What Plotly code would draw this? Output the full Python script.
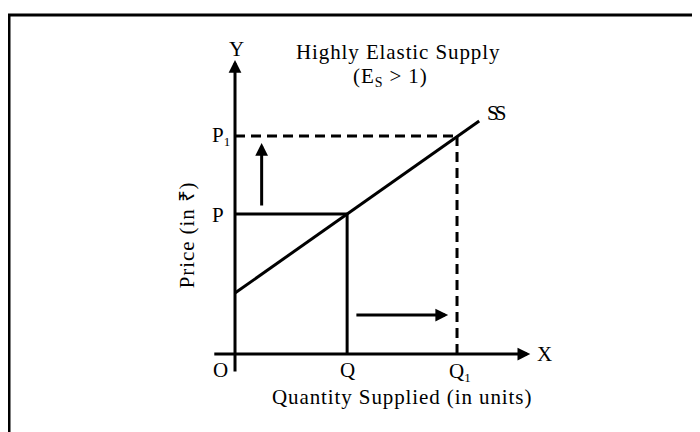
import plotly.graph_objects as go

# quantities (x) and prices (y) in chart units
Q = 10.1
Q1 = 20.0
P = 14.0
P1 = 21.8

# supply curve SS
ss_x = [0, 22.0]
ss_y = [6.1, 23.3]

# axis extents
x_axis = [-2.0, 26.6]
y_axis = [-1.9, 29.4]

# shift arrows
up_arrow_x = 2.4
up_arrow_y = [14.7, 21.1]
right_arrow_y = 3.9
right_arrow_x = [10.8, 19.2]

FONT = "Liberation Serif, Times New Roman, serif"
sp = '<span style="letter-spacing:0.9px">{}</span>'
sub1 = '<sub><span style="font-size:13px">1</span></sub>'

fig = go.Figure()

solid = dict(color="black", width=3)
dashed = dict(color="black", width=3, dash="10px,6px")

# original price / quantity
fig.add_trace(go.Scatter(x=[0, Q], y=[P, P], mode="lines", line=solid))
fig.add_trace(go.Scatter(x=[Q, Q], y=[0, P], mode="lines", line=solid))
# new price / quantity
fig.add_trace(go.Scatter(x=[0, Q1], y=[P1, P1], mode="lines", line=dashed))
fig.add_trace(go.Scatter(x=[Q1, Q1], y=[0, P1], mode="lines", line=dashed))
# supply curve
fig.add_trace(go.Scatter(x=ss_x, y=ss_y, mode="lines", line=solid))


def arrow(x0, y0, x1, y1, w=3):
    fig.add_annotation(x=x1, y=y1, ax=x0, ay=y0, xref="x", yref="y",
                       axref="x", ayref="y", text="", showarrow=True,
                       arrowhead=2, arrowsize=0.85, arrowwidth=w,
                       arrowcolor="black", standoff=0)


arrow(x_axis[0], 0, x_axis[1], 0)
arrow(0, y_axis[0], 0, y_axis[1])
arrow(up_arrow_x, up_arrow_y[0], up_arrow_x, up_arrow_y[1])
arrow(right_arrow_x[0], right_arrow_y, right_arrow_x[1], right_arrow_y)


def label(x, y, text, size=21, angle=0):
    fig.add_annotation(x=x, y=y, xref="x", yref="y", text=text,
                       showarrow=False, xanchor="center", yanchor="middle",
                       textangle=angle,
                       font=dict(family=FONT, size=size, color="black"))


label(0.1, 30.55, "Y")
label(27.9, 0, "X")
label(-1.3, -1.6, "O")
label(Q, -1.6, "Q")
label(Q1 + 0.3, -1.8, "Q" + sub1)
label(-1.5, P - 0.1, "P")
label(-1.3, P1 + 0.0, "P" + sub1)
label(23.6, 24.1, '<span style="letter-spacing:-4px">SS</span>')
label(14.7, 30.25, sp.format("Highly Elastic Supply"))
label(14.05, 27.7, sp.format("(E<sub><span style=\"font-size:14px\">S</span></sub> &gt; 1)"))
label(15.0, -4.3, sp.format("Quantity Supplied (in units)"))
label(-4.3, 11.9, sp.format("Price (in ₹)"), angle=-90)

# outer frame (cropped at right and bottom); page body adds an 8px offset
fig.add_shape(type="rect", xref="paper", yref="paper",
              x0=1 / 700, x1=1.05, y0=-0.05, y1=1 - 7 / 432,
              line=dict(color="black", width=3))

fig.update_layout(
    width=700, height=432,
    margin=dict(l=0, r=0, t=0, b=0),
    showlegend=False,
    plot_bgcolor="white", paper_bgcolor="white",
    xaxis=dict(range=[-20.45, 42.61], visible=False),
    yaxis=dict(range=[-8.6, 34.6], visible=False),
)

fig.write_html("out.html")
